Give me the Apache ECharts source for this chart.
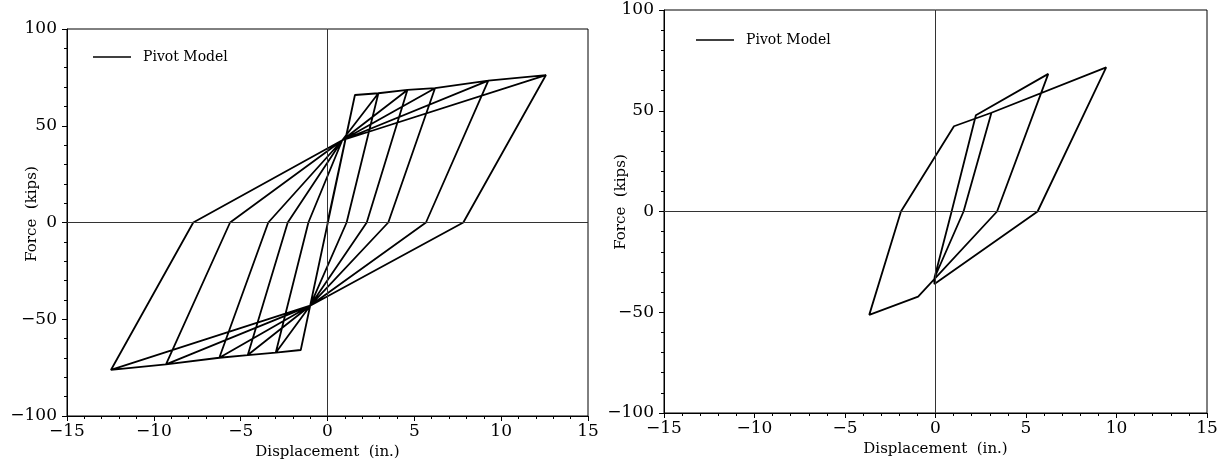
<!DOCTYPE html>
<html><head><meta charset="utf-8">
<script src="https://cdn.jsdelivr.net/npm/echarts/dist/echarts.min.js"></script>
<style>html,body{margin:0;padding:0;background:#fff}#c{width:1228px;height:471px}</style>
</head><body><div id="c"></div>
<script>
// ---- data ----
const xRange = [-15, 15];
const yRange = [-100, 100];
const xTickStep = 5;
const yTickStep = 50;
const seriesName = 'Pivot Model';
const xTitle = 'Displacement  (in.)';
const yTitle = 'Force  (kips)';

// left panel: displacement (in.), force (kips) path
const leftPath = [
  [0, 0], [1.58, 65.9], [-1.54, -65.9], [1.58, 65.9], [2.93, 66.8],
  [1.10, 0], [-1.0, -43.0], [-1.54, -65.9], [-2.98, -67.3], [-1.10, 0], [0.85, 42.5], [2.93, 66.8],
  [1.10, 0], [-1.0, -43.0], [-2.98, -67.3], [-1.10, 0], [0.85, 42.5], [2.93, 66.8], [4.60, 68.5],
  [2.26, 0], [-1.0, -43.0], [-2.98, -67.3], [-4.59, -68.5], [-2.29, 0], [0.85, 42.5], [4.60, 68.5],
  [2.26, 0], [-1.0, -43.0], [-4.59, -68.5], [-2.29, 0], [0.85, 42.5], [4.60, 68.5], [6.19, 69.4],
  [3.50, 0], [-1.0, -43.0], [-4.59, -68.5], [-6.23, -69.9], [-3.41, 0], [0.85, 42.5], [6.19, 69.4],
  [3.50, 0], [-1.0, -43.0], [-6.23, -69.9], [-3.41, 0], [0.85, 42.5], [6.19, 69.4], [9.26, 73.3],
  [5.67, 0], [-1.0, -43.0], [-6.23, -69.9], [-9.30, -73.3], [-5.61, 0], [0.85, 42.5], [9.26, 73.3],
  [5.67, 0], [-1.0, -43.0], [-9.30, -73.3], [-5.61, 0], [0.85, 42.5], [9.26, 73.3], [12.58, 76.2],
  [7.82, 0], [-1.0, -43.0], [-9.30, -73.3], [-12.47, -76.2], [-7.73, 0], [0.85, 42.5], [12.58, 76.2],
  [7.82, 0], [-1.0, -43.0], [-12.47, -76.2], [-7.73, 0], [0.85, 42.5]
];

// right panel path
const rightPath = [
  [-0.06, -33], [0.89, 0], [2.23, 47.8], [6.23, 68.3], [3.40, 0], [-0.96, -42.2],
  [-3.66, -51.3], [-1.91, 0], [1.02, 42.3], [3.09, 49.0], [9.43, 71.5],
  [5.64, 0], [-0.06, -36], [-0.06, -33], [1.55, 0], [3.09, 49.0]
];

// ---- chart ----
const FONT = 'DejaVu Serif';
function fmt(v) { return v < 0 ? '\u2212' + Math.abs(v) : String(v); }

function xAxis(gi) {
  return {
    type: 'value', gridIndex: gi, min: xRange[0], max: xRange[1], interval: xTickStep,
    axisLine: { onZero: false, lineStyle: { color: '#000', width: 1 } },
    axisTick: { length: 5, lineStyle: { color: '#000' } },
    minorTick: { show: true, splitNumber: 5, length: 3, lineStyle: { color: '#000' } },
    splitLine: { show: false },
    axisLabel: { formatter: fmt, fontFamily: FONT, fontSize: 17, color: '#000', margin: 7 },
    name: xTitle, nameLocation: 'middle', nameGap: 27,
    nameTextStyle: { fontFamily: FONT, fontSize: 15, color: '#000', verticalAlign: 'top' }
  };
}
function yAxis(gi) {
  return {
    type: 'value', gridIndex: gi, min: yRange[0], max: yRange[1], interval: yTickStep,
    axisLine: { onZero: false, lineStyle: { color: '#000', width: 1 } },
    axisTick: { length: 5, lineStyle: { color: '#000' } },
    minorTick: { show: true, splitNumber: 5, length: 3, lineStyle: { color: '#000' } },
    splitLine: { show: false },
    axisLabel: { formatter: fmt, fontFamily: FONT, fontSize: 17, color: '#000', margin: 10 }
  };
}
function zeroLines() {
  return {
    silent: true, symbol: ['none', 'none'], animation: false,
    label: { show: false },
    lineStyle: { color: '#333', type: 'solid', width: 1 },
    data: [{ xAxis: 0 }, { yAxis: 0 }]
  };
}
function lineSeries(gi, data) {
  return {
    name: seriesName, type: 'line', xAxisIndex: gi, yAxisIndex: gi, data: data,
    showSymbol: false, symbol: 'none', animation: false,
    lineStyle: { color: '#000', width: 1.8 }, itemStyle: { color: '#000' },
    markLine: zeroLines()
  };
}
function legend(left, top) {
  return {
    left: left, top: top, data: [seriesName], icon: 'rect', itemWidth: 38, itemHeight: 1.5,
    selectedMode: false,
    textStyle: { fontFamily: FONT, fontSize: 14, color: '#000', padding: [0, 0, 0, 7] }
  };
}

const chart = echarts.init(document.getElementById('c'), null, { renderer: 'canvas' });
chart.setOption({
  backgroundColor: '#fff',
  animation: false,
  grid: [
    { left: 67, top: 29, width: 521, height: 387, show: true, borderColor: '#000', borderWidth: 1 },
    { left: 664, top: 10, width: 543, height: 403, show: true, borderColor: '#000', borderWidth: 1 }
  ],
  xAxis: [xAxis(0), xAxis(1)],
  yAxis: [yAxis(0), yAxis(1)],
  legend: [legend(88, 45), legend(691, 28)],
  graphic: [
    { type: 'text', x: 32, y: 214, rotation: Math.PI / 2,
      style: { text: yTitle, font: '15px "DejaVu Serif"', fill: '#000', align: 'center', verticalAlign: 'middle' } },
    { type: 'text', x: 621, y: 202, rotation: Math.PI / 2,
      style: { text: yTitle, font: '15px "DejaVu Serif"', fill: '#000', align: 'center', verticalAlign: 'middle' } }
  ],
  series: [lineSeries(0, leftPath), lineSeries(1, rightPath)]
});
</script></body></html>
